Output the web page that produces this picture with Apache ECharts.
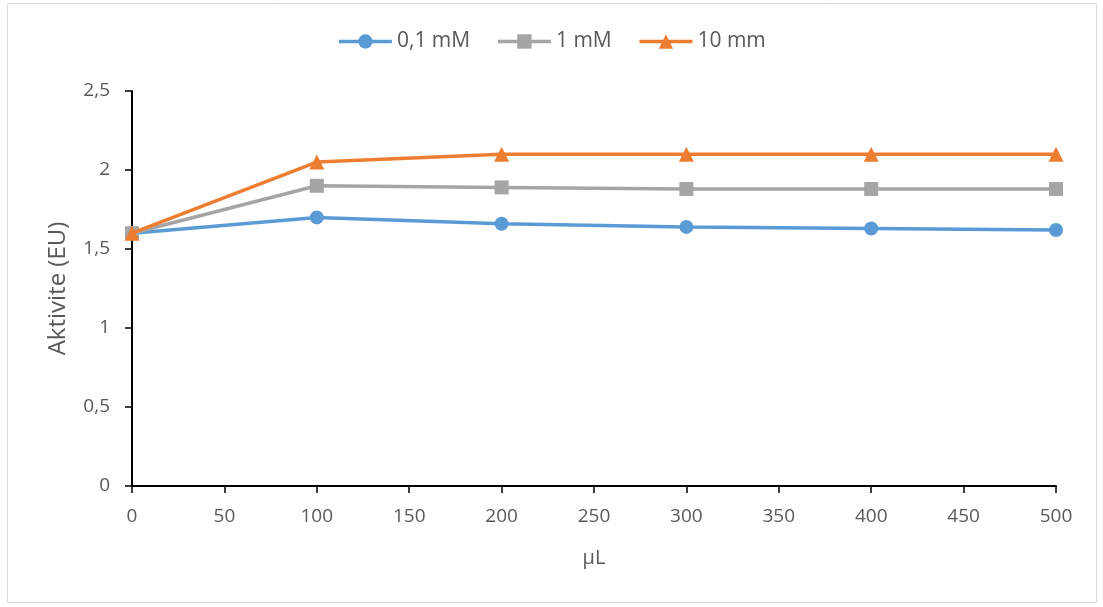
<!DOCTYPE html>
<html>
<head>
<meta charset="utf-8">
<script src="https://cdn.jsdelivr.net/npm/echarts@6/dist/echarts.min.js"></script>
<style>
  html, body { margin: 0; padding: 0; background: #fff; }
  #chart { width: 1103px; height: 607px; }
</style>
</head>
<body>
<div id="chart"></div>
<script>
// Volume (µL) on the x axis
const volumes = [0, 100, 200, 300, 400, 500];
// Activity values per concentration
const series01mM = [1.60, 1.70, 1.66, 1.64, 1.63, 1.62];
const series1mM = [1.60, 1.90, 1.89, 1.88, 1.88, 1.88];
const series10mm = [1.60, 2.05, 2.10, 2.10, 2.10, 2.10];
const seriesNames = ['0,1 mM', '1 mM', '10 mm'];

const textColor = '#595959';
const fontFamily = '"Open Sans", "Liberation Sans", sans-serif';

function pairs(values) {
  return volumes.map((v, i) => [v, values[i]]);
}

const chart = echarts.init(document.getElementById('chart'));
chart.setOption({
  animation: false,
  textStyle: { fontFamily: fontFamily },
  graphic: [{
    type: 'rect',
    shape: { x: 7.5, y: 3.5, width: 1089, height: 599 },
    style: { fill: 'none', stroke: '#d9d9d9', lineWidth: 1 },
    silent: true
  }],
  legend: {
    top: 26,
    left: 'center',
    itemWidth: 53,
    itemHeight: 18,
    itemGap: 26,
    lineStyle: { width: 3.5 },
    textStyle: { color: textColor, fontSize: 21, fontFamily: fontFamily },
    data: seriesNames
  },
  grid: { left: 132, right: 47, top: 91, bottom: 121 },
  xAxis: {
    type: 'value',
    min: 0,
    max: 500,
    interval: 50,
    name: 'µL',
    nameLocation: 'middle',
    nameGap: 62,
    nameTextStyle: { color: textColor, fontSize: 20, fontFamily: fontFamily },
    axisLine: { lineStyle: { color: '#000', width: 2 } },
    axisTick: { show: true, inside: false, length: 7, lineStyle: { color: '#000', width: 1.5 } },
    axisLabel: { color: textColor, fontSize: 19, margin: 21, fontFamily: fontFamily },
    splitLine: { show: false }
  },
  yAxis: {
    type: 'value',
    min: 0,
    max: 2.5,
    interval: 0.5,
    name: 'Aktivite (EU)',
    nameLocation: 'middle',
    nameGap: 62,
    nameTextStyle: { color: textColor, fontSize: 24, fontFamily: fontFamily },
    axisLine: { show: true, lineStyle: { color: '#000', width: 2 } },
    axisTick: { show: true, inside: false, length: 7, lineStyle: { color: '#000', width: 1.5 } },
    axisLabel: {
      color: textColor,
      fontSize: 19,
      margin: 22,
      fontFamily: fontFamily,
      formatter: v => String(v).replace('.', ',')
    },
    splitLine: { show: false }
  },
  series: [
    {
      name: seriesNames[0],
      type: 'line',
      data: pairs(series01mM),
      symbol: 'circle',
      symbolSize: 14,
      color: '#5B9BD5',
      lineStyle: { width: 3.5 },
      z: 3
    },
    {
      name: seriesNames[1],
      type: 'line',
      data: pairs(series1mM),
      symbol: 'rect',
      symbolSize: 14,
      color: '#A5A5A5',
      lineStyle: { width: 3.5 },
      z: 4
    },
    {
      name: seriesNames[2],
      type: 'line',
      data: pairs(series10mm),
      symbol: 'triangle',
      symbolSize: 15,
      color: '#ED7D31',
      lineStyle: { width: 3.5 },
      z: 5
    }
  ]
});
</script>
</body>
</html>
